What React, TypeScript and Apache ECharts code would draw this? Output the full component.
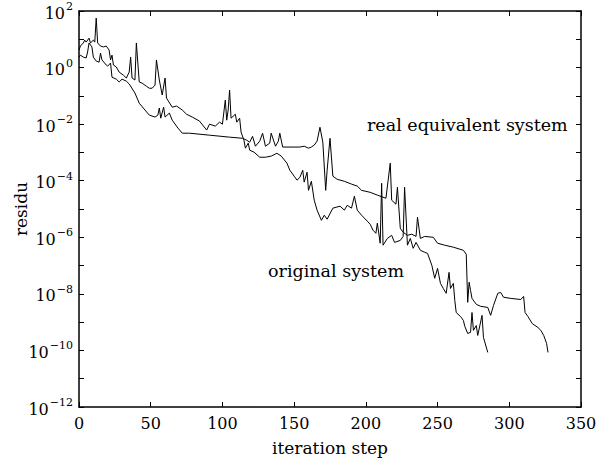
import React, { useEffect, useRef } from "react";
import * as echarts from "echarts";

// iteration step, log10(residu) — real equivalent system
const realSteps = [0, 1, 3, 5, 6, 7, 9, 10, 12, 14, 15, 16, 19, 20, 22, 23, 26, 28, 30, 33, 35, 39, 42, 46, 49, 53, 55, 56, 57, 59, 60, 63, 65, 69, 72, 77, 91, 105, 114, 117, 119, 121, 123, 126, 128, 130, 133, 134, 137, 139, 140, 142, 150, 154, 157, 160, 162, 164, 166, 168, 170, 172, 173, 175, 177, 180, 185, 190, 194, 197, 203, 208, 214, 217, 218, 221, 222, 224, 226, 229, 232, 235, 236, 238, 241, 247, 250, 255, 261, 268, 270, 271, 272, 273, 274, 277, 280, 285, 287, 289, 292, 294, 296, 301, 308, 310, 311, 313, 316, 320, 322, 324, 326, 327];
const realLogResidu = [0.37, 0.44, 0.37, 0.34, 0.55, 0.87, 0.73, 0.37, 0.23, 0.19, 0.51, 0.27, 0.09, 0.05, 0.16, -0.34, -0.41, -0.51, -0.41, -0.48, -0.58, -0.9, -1.26, -1.5, -1.68, -1.75, -1.68, -1.43, -1.79, -1.4, -1.75, -1.61, -1.86, -2.14, -2.32, -2.32, -2.39, -2.46, -2.5, -2.57, -2.64, -2.43, -2.78, -2.6, -2.32, -2.78, -2.67, -2.32, -2.78, -2.6, -2.32, -2.81, -2.81, -2.81, -2.78, -2.85, -2.81, -2.74, -2.6, -2.11, -2.64, -4.34, -3.63, -2.5, -3.84, -3.95, -4.02, -4.12, -4.19, -4.34, -4.41, -4.51, -4.62, -3.38, -4.69, -4.83, -4.23, -5.68, -5.82, -5.93, -5.89, -5.97, -5.29, -6.04, -5.97, -6.0, -6.21, -6.28, -6.35, -6.46, -6.6, -8.3, -7.59, -7.88, -8.16, -8.37, -8.44, -8.48, -8.76, -8.41, -7.98, -7.95, -8.12, -8.16, -8.2, -8.09, -8.66, -8.8, -9.05, -9.19, -9.29, -9.47, -9.75, -10.07];

// iteration step, log10(residu) — original system
const origSteps = [0, 1, 3, 4, 5, 7, 8, 10, 11, 12, 13, 15, 17, 19, 21, 22, 23, 24, 26, 28, 31, 33, 35, 36, 37, 39, 40, 42, 44, 47, 49, 51, 53, 54, 56, 58, 60, 61, 65, 68, 72, 75, 79, 84, 89, 91, 95, 98, 100, 102, 103, 104, 105, 106, 109, 110, 112, 113, 115, 116, 118, 119, 122, 126, 130, 134, 138, 141, 145, 147, 150, 152, 154, 156, 157, 159, 160, 162, 164, 166, 169, 171, 173, 177, 182, 185, 187, 190, 192, 194, 197, 201, 203, 205, 207, 208, 210, 211, 212, 215, 218, 220, 224, 226, 227, 229, 231, 233, 235, 238, 241, 243, 246, 248, 250, 252, 254, 256, 258, 259, 261, 262, 263, 266, 268, 269, 271, 273, 274, 275, 277, 278, 281, 282, 285];
const origLogResidu = [0.62, 0.76, 0.87, 0.97, 0.9, 1.04, 0.87, 0.97, 0.9, 1.75, 0.87, 0.76, 0.73, 0.76, 0.62, 0.27, 0.44, 0.09, 0.02, -0.16, -0.27, -0.37, -0.16, 0.37, -0.37, -0.44, 0.87, -0.51, -0.55, -0.66, -0.73, -0.73, -0.62, 0.27, -0.44, -0.97, -0.37, -1.08, -1.4, -1.36, -1.5, -1.65, -1.75, -1.89, -2.21, -2.0, -2.07, -1.93, -2.0, -1.15, -1.86, -1.5, -0.8, -1.79, -1.65, -1.93, -1.79, -2.28, -2.57, -2.85, -2.67, -2.92, -2.99, -3.17, -3.17, -3.13, -3.03, -3.13, -3.38, -3.63, -3.84, -3.98, -3.88, -3.63, -4.05, -3.7, -4.34, -4.02, -4.69, -5.04, -5.4, -5.22, -5.36, -4.97, -4.9, -5.04, -4.87, -4.97, -4.55, -5.04, -5.22, -5.43, -5.54, -5.75, -5.86, -5.5, -6.21, -4.09, -6.28, -6.04, -5.93, -6.18, -6.11, -5.97, -4.23, -6.28, -6.04, -6.39, -6.18, -6.46, -6.53, -6.57, -6.99, -7.45, -7.1, -7.63, -7.81, -7.98, -7.24, -7.81, -7.63, -8.23, -8.66, -8.8, -8.94, -9.15, -9.4, -9.36, -8.66, -9.29, -9.12, -9.47, -8.76, -9.54, -10.07];

const seriesNames = ["real equivalent system", "original system"];
const xTicks = { min: 0, max: 350, step: 50 };
const yExponents = { min: -12, max: 2, step: 2 };

const FONT = "'DejaVu Serif', 'Liberation Serif', serif";

function pairs(xs: number[], ys: number[]) {
  return xs.map((x, i) => [x, ys[i]]);
}

export default function App() {
  const ref = useRef<HTMLDivElement>(null);
  useEffect(() => {
    document.body.style.margin = "0";
    if (!ref.current) return;
    const chart = echarts.init(ref.current, null, { renderer: "svg" });
    const axisLineStyle = { color: "#000", width: 1.5 };
    const tick = () => ({ show: true, inside: true, length: 5, lineStyle: { color: "#000", width: 1 } });
    const expLabel = (v: number) => {
      const e = Math.round(v);
      const s = e < 0 ? "\u2212" + Math.abs(e) : String(e);
      return `{b|10}{s|${s}}`;
    };
    chart.setOption({
      animation: false,
      backgroundColor: "#fff",
      grid: { left: 79, right: 16, top: 11, bottom: 58, containLabel: false, outerBoundsMode: "none" },
      xAxis: [
        {
          type: "value",
          min: xTicks.min,
          max: xTicks.max,
          interval: xTicks.step,
          name: "iteration step",
          nameLocation: "middle",
          nameGap: 32,
          nameMoveOverlap: false,
          nameTextStyle: { fontFamily: FONT, fontSize: 17, color: "#000" },
          axisLine: { show: true, onZero: false, lineStyle: axisLineStyle },
          axisTick: tick(),
          axisLabel: { fontFamily: FONT, fontSize: 16, color: "#000", margin: 8 },
          splitLine: { show: false },
        },
        {
          type: "value",
          position: "top",
          min: xTicks.min,
          max: xTicks.max,
          interval: xTicks.step,
          axisLine: { show: true, onZero: false, lineStyle: axisLineStyle },
          axisTick: tick(),
          axisLabel: { show: false },
          splitLine: { show: false },
        },
      ],
      yAxis: [
        {
          type: "value",
          min: yExponents.min,
          max: yExponents.max,
          interval: yExponents.step,
          name: "residu",
          nameLocation: "middle",
          nameGap: 50,
          nameMoveOverlap: false,
          nameTextStyle: { fontFamily: FONT, fontSize: 17, color: "#000" },
          axisLine: { show: true, onZero: false, lineStyle: axisLineStyle },
          axisTick: tick(),
          minorTick: { show: true, splitNumber: 2, length: 5, lineStyle: { color: "#000", width: 1 } },
          axisLabel: {
            margin: 6,
            formatter: expLabel,
            rich: {
              b: { fontFamily: FONT, fontSize: 16, color: "#000", verticalAlign: "bottom" },
              s: { fontFamily: FONT, fontSize: 11, color: "#000", padding: [0, 0, 9, 1], verticalAlign: "bottom" },
            },
          },
          splitLine: { show: false },
        },
        {
          type: "value",
          position: "right",
          min: yExponents.min,
          max: yExponents.max,
          interval: 1,
          axisLine: { show: true, onZero: false, lineStyle: axisLineStyle },
          axisTick: tick(),
          axisLabel: { show: false },
          splitLine: { show: false },
        },
      ],
      series: [
        {
          name: seriesNames[0],
          type: "line",
          data: pairs(realSteps, realLogResidu),
          showSymbol: false,
          lineStyle: { color: "#000", width: 1 },
        },
        {
          name: seriesNames[1],
          type: "line",
          data: pairs(origSteps, origLogResidu),
          showSymbol: false,
          lineStyle: { color: "#000", width: 1 },
        },
      ],
      graphic: [
        {
          type: "text",
          left: 367,
          top: 116,
          style: { text: seriesNames[0], font: `17.5px ${FONT}`, fill: "#000" },
        },
        {
          type: "text",
          left: 268,
          top: 262,
          style: { text: seriesNames[1], font: `17.5px ${FONT}`, fill: "#000" },
        },
      ],
    });
    return () => chart.dispose();
  }, []);
  return <div ref={ref} style={{ width: 597, height: 465 }} />;
}
